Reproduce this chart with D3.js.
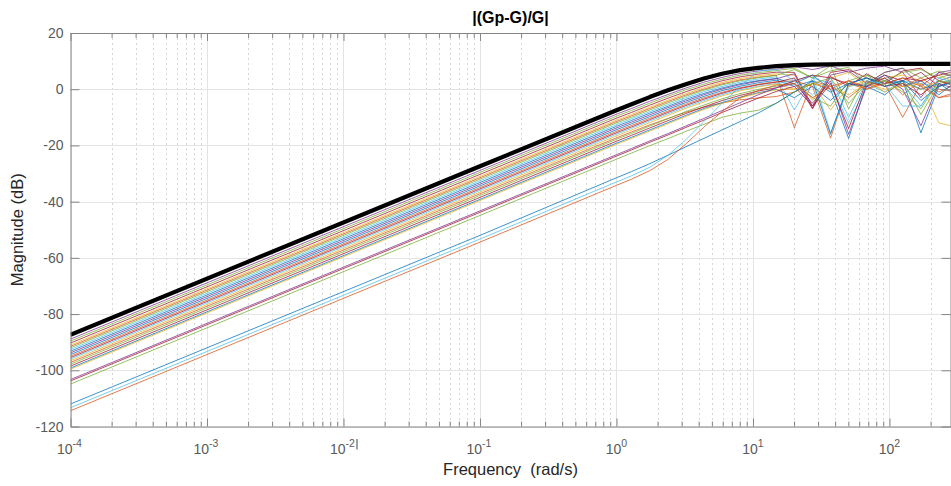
<!DOCTYPE html>
<html>
<head>
<meta charset="utf-8">
<script src="https://cdn.jsdelivr.net/npm/d3@7"></script>
<style>
  html, body { margin: 0; padding: 0; background: #fff; }
  svg { display: block; font-family: "Liberation Sans", Arial, Helvetica, sans-serif; }
  .ax path.domain { stroke: #858585; stroke-width: 1; }
  .ax line { stroke: #858585; stroke-width: 1; }
</style>
</head>
<body>
<svg id="chart" width="951" height="486"></svg>
<script>
// ---------------- DATA ----------------
const title = "|(Gp-G)/G|";
const xLabel = "Frequency  (rad/s)";
const yLabel = "Magnitude (dB)";
const yTicks = [-120, -100, -80, -60, -40, -20, 0, 20];
const xTickExponents = [-4, -3, -2, -1, 0, 1, 2];
const xDomain = [1e-4, 280];
const yDomain = [-120, 20];

// frequency grid (rad/s) shared by all responses
const freq = [1e-4, 0.1, 1, 1.29, 1.75, 2.38, 3.22, 4.37, 5.93, 8.05, 10.9, 14.8, 20.1, 27.3, 37, 50.2, 68, 92.3, 125, 170, 230, 312];

// thick black bound curve (dB)
const bound = [-87.4, -27.4, -7.5, -5.35, -2.8, -0.4, 1.8, 3.8, 5.5, 6.8, 7.6, 8.2, 8.55, 8.75, 8.86, 8.93, 8.96, 8.98, 9.0, 9.0, 9.0, 9.0];

// individual responses (dB)
const s1  = [-88.9, -28.9, -8.9, -6.85, -4.3, -1.9, 0.4, 2.5, 4.2, 5.6, 6.5, 7.1, 8, 7, 8.3, 6, 7.5, 8.2, 6, -3, 6, 7];
const s2  = [-89.6, -29.6, -9.6, -7.55, -5.0, -2.5, -0.2, 1.8, 3.6, 5.0, 5.9, 6.6, 7.5, 4, 6.5, 7.8, 2, 6, 7.5, 4, 6.5, 4];
const s3  = [-90.3, -30.3, -10.3, -8.25, -5.7, -3.2, -0.9, 1.2, 3.0, 4.4, 5.35, 6.05, 6, -6, 6, 7, 4, 2, 6.5, 7.5, 3, 5];
const s4  = [-91.0, -31.0, -11.0, -8.95, -6.4, -3.9, -1.55, 0.5, 2.4, 3.8, 4.8, 5.5, 5, -4, 4, 6, 1, 4, 5, 3, 5, 2];
const s5  = [-91.5, -31.5, -11.5, -9.45, -6.9, -4.4, -2.05, 0, 1.9, 3.3, 4.3, 5.0, -13.7, 3, 1, -3, 2, 4, -2, 3, -1, 2];
const s6  = [-92.0, -32.0, -12.0, -9.95, -7.4, -4.9, -2.5, -0.35, 1.55, 3.0, 4.1, 4.9, 7, 4, 8.3, -7, 5, 3, 6, 7, 4, 6];
const s7  = [-92.6, -32.6, -12.6, -10.5, -8.0, -5.5, -3.05, -0.9, 1.0, 2.5, 3.6, 4.4, -7.4, 4, 2, -12, 1, 3, 2, -6, 3, 5];
const s8  = [-93.2, -33.2, -13.2, -11.1, -8.55, -6.1, -3.64, -1.5, 0.45, 1.95, 3.05, 3.85, 2, 5, 0, -17.5, 2, 5, 1, 3, -2, 3];
const s9  = [-93.8, -33.8, -13.8, -11.7, -9.15, -6.6, -4.2, -1.97, 0.05, 1.6, 2.85, 3.7, 5.5, -6.7, 5, 6.5, 2, 6, 7.5, 1, 6, 4];
const s10 = [-94.4, -34.4, -14.4, -12.3, -9.75, -7.2, -4.75, -2.55, -0.5, 1.05, 2.3, 3.2, 1, 3, -1, 2, 4, 2, 3, -15.5, 1, 3];
const s11 = [-95.0, -35.0, -15.0, -12.9, -10.35, -7.8, -5.35, -3.1, -1.1, 0.5, 1.75, 2.65, 3, 1, -17.4, 2, 0, 3, 1, 4, 0, -1];
const s12 = [-95.5, -35.5, -15.5, -13.4, -10.85, -8.27, -5.8, -3.55, -1.46, 0.25, 1.55, 2.5, 4, -7, 4.5, 1, 5.5, 2, 4, 3, 5, 6.5];
const s13 = [-96.0, -36.0, -16.0, -13.9, -11.3, -8.77, -6.3, -4.05, -1.96, -0.25, 1.05, 2.0, 3, 5, -15.5, 1, 2, -1, 3, 2, 1, 3];
const s14 = [-96.6, -36.6, -16.6, -14.5, -11.9, -9.3, -6.8, -4.55, -2.4, -0.6, 0.8, 1.85, 0, 2, -7.4, 1, 3, -1, 2, 0, 3, 1];
const s15 = [-97.2, -37.2, -17.3, -15.2, -12.7, -10.4, -8.2, -6.35, -4.85, -3.8, -3.1, -2.6, -1, 2, 0, 3, 1, 2, -10, 2, -3, -1];
const s16 = [-97.8, -37.8, -17.8, -15.7, -13.1, -10.5, -7.95, -5.64, -3.4, -1.55, -0.06, 1.1, 2, -3, -6, 3, 5, 1, 3, -9, 2, 4];
const s17 = [-98.5, -38.5, -18.5, -16.4, -13.8, -11.2, -8.65, -6.3, -4.05, -2.2, -0.65, 0.5, 3, 5, 4, 2, 1, 5, 3, 6, 1, 4];
const s18 = [-99.2, -39.2, -19.2, -17.1, -14.5, -11.9, -9.33, -6.85, -4.8, -2.85, -1.25, -0.05, -3, 1, -4, 2, 1, -2, 3, 0, 2, -2];
const s19 = [-99.6, -39.6, -19.6, -17.5, -14.9, -12.3, -9.7, -7.2, -5.05, -3.1, -1.5, -0.2, 0, 2, 1, -2, 2, 0, 1, 2, -12, -13.5];
const s20 = [-103.3, -43.3, -23.3, -21.1, -18.4, -15.8, -13.1, -10.4, -7.6, -4.8, -2.0, 0.5, 2, -5, 3, -16, 1, 4, 0, -13, 2, 0];
const s21 = [-103.8, -43.8, -23.8, -21.6, -18.9, -16.3, -13.6, -11.0, -8.3, -5.7, -3.2, -0.8, 1, -6, 2, -14, 3, 1, 2, -2, 3, 1];
const s22 = [-104.9, -44.9, -24.9, -22.7, -20.1, -17.6, -15.0, -12.5, -10.0, -8.5, -7.5, -5, -1, 2, 4, -5, 2, 3, -1, -7, 3, 2];
const s23 = [-112.0, -52.0, -31.5, -29.3, -26.5, -23.5, -20.5, -17.5, -14.5, -11.5, -8.5, -5, -1, 3, -16, 2, 4, 1, 3, -4, 1, 3];
const s24 = [-113.3, -53.3, -33.0, -30.8, -27.8, -23.5, -18, -11.5, -5, 1, 6.5, 7, 3, -2, 4, -10, 3, 2, -6, -6, 4, 2];
const s25 = [-114.4, -54.4, -34.2, -32, -29, -25, -19.5, -13.5, -8, -3, -0.5, 1.5, 2, -3, 1, 3, 0, 2, 4, 1, -3, -2];

const responses = [s1, s2, s3, s4, s5, s6, s7, s8, s9, s10, s11, s12, s13, s14, s15, s16, s17, s18, s19, s20, s21, s22, s23, s24, s25];
const responseColors = ["#7E2F8E", "#77AC30", "#A2142F", "#EDB120", "#D95319", "#77AC30", "#4DBEEE",
  "#0072BD", "#7E2F8E", "#0072BD", "#D95319", "#A2142F", "#4DBEEE", "#EDB120", "#D95319", "#77AC30",
  "#A2142F", "#0072BD", "#EDB120", "#7E2F8E", "#A2142F", "#77AC30", "#0072BD", "#4DBEEE", "#D95319"];

// ---------------- CHART ----------------
const W = 951, H = 486;
const L = 70.5, R = 950.5, T = 33, B = 426.5;
const svg = d3.select("#chart");

const x = d3.scaleLog().domain(xDomain).range([L, R]);
const y = d3.scaleLinear().domain(yDomain).range([B, T]);

const majorX = xTickExponents.map(e => Math.pow(10, e));
const minorX = [];
xTickExponents.forEach(e => {
  for (let k = 2; k <= 9; k++) {
    const v = k * Math.pow(10, e);
    if (v <= xDomain[1]) minorX.push(v);
  }
});

// clip
svg.append("defs").append("clipPath").attr("id", "clip")
  .append("rect").attr("x", L).attr("y", T).attr("width", R - L).attr("height", B - T);

// grid
const grid = svg.append("g");
grid.selectAll(".gminor").data(minorX).join("line")
  .attr("x1", d => Math.round(x(d)) + 0.5).attr("x2", d => Math.round(x(d)) + 0.5)
  .attr("y1", T).attr("y2", B)
  .attr("stroke", "#d6d6d6").attr("stroke-width", 1).attr("stroke-dasharray", "2,3");
grid.selectAll(".gmajorx").data(majorX).join("line")
  .attr("x1", d => Math.round(x(d)) + 0.5).attr("x2", d => Math.round(x(d)) + 0.5)
  .attr("y1", T).attr("y2", B)
  .attr("stroke", "#e4e4e4").attr("stroke-width", 1);
grid.selectAll(".gmajory").data(yTicks).join("line")
  .attr("x1", L).attr("x2", R)
  .attr("y1", d => Math.round(y(d)) + 0.5).attr("y2", d => Math.round(y(d)) + 0.5)
  .attr("stroke", "#e4e4e4").attr("stroke-width", 1);

// lines
const line = d3.line().x((d, i) => x(freq[i])).y(d => y(d));
const plot = svg.append("g").attr("clip-path", "url(#clip)");
plot.selectAll(".resp").data(responses).join("path")
  .attr("d", d => line(d))
  .attr("fill", "none")
  .attr("stroke", (d, i) => responseColors[i])
  .attr("stroke-width", 0.9)
  .attr("stroke-opacity", 0.85)
  .attr("stroke-linejoin", "miter");
plot.append("path").attr("d", line(bound))
  .attr("fill", "none").attr("stroke", "#000").attr("stroke-width", 4.2)
  .attr("stroke-linejoin", "round");

// axes (ticks inward)
svg.append("g").attr("class", "ax").attr("transform", `translate(0,${B})`)
  .call(d3.axisBottom(x).tickValues(majorX).tickSize(-8).tickSizeOuter(0).tickFormat(""));
svg.append("g").attr("class", "ax").attr("transform", `translate(0,${B})`)
  .call(d3.axisBottom(x).tickValues(minorX).tickSize(-5).tickSizeOuter(0).tickFormat(""))
  .select(".domain").remove();
svg.append("g").attr("class", "ax").attr("transform", `translate(0,${T})`)
  .call(d3.axisTop(x).tickValues(majorX).tickSize(-8).tickSizeOuter(0).tickFormat(""));
svg.append("g").attr("class", "ax").attr("transform", `translate(0,${T})`)
  .call(d3.axisTop(x).tickValues(minorX).tickSize(-5).tickSizeOuter(0).tickFormat(""))
  .select(".domain").remove();
svg.append("g").attr("class", "ax").attr("transform", `translate(${L},0)`)
  .call(d3.axisLeft(y).tickValues(yTicks).tickSize(-9).tickSizeOuter(0).tickFormat(""));
svg.append("g").attr("class", "ax").attr("transform", `translate(${R},0)`)
  .call(d3.axisRight(y).tickValues(yTicks).tickSize(-9).tickSizeOuter(0).tickFormat(""));

// y tick labels
svg.append("g").selectAll("text").data(yTicks).join("text")
  .attr("x", L - 7).attr("y", d => y(d) + 5)
  .attr("text-anchor", "end").attr("font-size", 14).attr("fill", "#5a5a5a")
  .text(d => d);

// x tick labels with superscript exponents
const xl = svg.append("g").selectAll("text").data(xTickExponents).join("text")
  .attr("x", d => x(Math.pow(10, d)) - (d < 0 ? 1 : 0)).attr("y", 454)
  .attr("text-anchor", "middle").attr("font-size", 14).attr("fill", "#5a5a5a");
xl.append("tspan").text("10");
xl.append("tspan").attr("dy", -7).attr("font-size", 10.5).text(d => d < 0 ? "-" + Math.abs(d) : String(d));

// small stray mark after 10^-2 seen in reference
svg.append("line").attr("x1", x(1e-2) + 13.5).attr("x2", x(1e-2) + 13.5)
  .attr("y1", 439).attr("y2", 449.5).attr("stroke", "#444").attr("stroke-width", 1);

// axis labels & title
svg.append("text").attr("x", (L + R) / 2).attr("y", 475)
  .attr("text-anchor", "middle").attr("font-size", 16.5).attr("fill", "#262626")
  .attr("xml:space", "preserve").style("white-space", "pre").text(xLabel);
svg.append("text").attr("transform", `translate(23,${(T + B) / 2}) rotate(-90)`)
  .attr("text-anchor", "middle").attr("font-size", 16.5).attr("fill", "#262626")
  .text(yLabel);
svg.append("text").attr("x", (L + R) / 2).attr("y", 22.5)
  .attr("text-anchor", "middle").attr("font-size", 16).attr("font-weight", "bold").attr("fill", "#000")
  .text(title);
</script>
</body>
</html>
